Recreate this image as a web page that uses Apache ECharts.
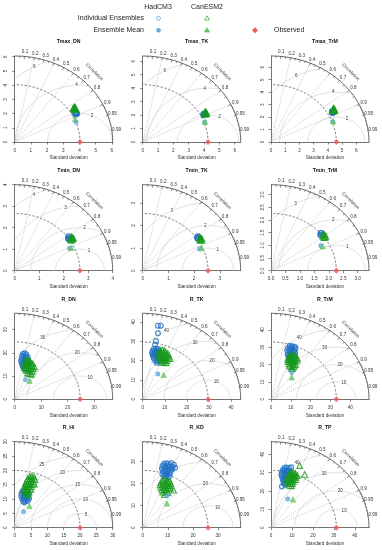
<!DOCTYPE html>
<html><head><meta charset="utf-8">
<script src="https://cdn.jsdelivr.net/npm/echarts@6/dist/echarts.min.js"></script>
<style>html,body{margin:0;padding:0;background:#fff}#c{width:382px;height:550px}</style>
</head><body><div id="c"></div>
<script>
// ---------------- data ----------------
const panelNames = ["Tmax_DN","Tmax_TK","Tmax_TrM","Tmin_DN","Tmin_TK","Tmin_TrM","R_DN","R_TK","R_TrM","R_Hi","R_KD","R_TP"];
const observedSD = [4.03,4.26,4.6,2.66,2.54,2.26,24.7,29.6,33,20,26,31.2];
const maxSD = [6.05,6.39,6.9,4.0,3.81,3.39,37,44.4,49.5,30,39,46.8];
const tickStep = [1,1,1,1,1,0.5,10,10,10,5,10,10];
const rmsLabels = [[2,4,6],[2,4,6],[2,4,6],[1,2,3,4],[1,2,3],[1,2,3],[10,20,30],[10,20,30,40],[10,20,30,40],[5,10,15,20,25],[10,20,30],[10,20,30,40]];
const corrLabels = [0.1,0.2,0.3,0.4,0.5,0.6,0.7,0.8,0.9,0.95,0.99];
const corrGridLines = [0.2,0.4,0.6,0.8,0.9];

const hadMean = [[3.79,1.40],[4.04,1.46],[4.34,1.63],[2.24,1.04],[2.21,0.97],[1.72,0.99],[4.07,8.46],[6.9,13.1],[10.5,15.4],[2.7,5.6],[9.65,14.5],[8.0,15.6]];
const canMean = [[3.73,1.63],[4.07,1.51],[4.38,1.66],[2.31,1.07],[2.29,1.0],[1.79,0.96],[5.6,8.0],[9.5,12.6],[10.5,12.7],[4.5,7.6],[9.65,11.0],[10.5,15.4]];

const hadTmaxDN = [[3.72,2.0],[3.79,2.06],[3.86,2.0],[3.76,1.94],[3.83,1.95],[3.8,2.1],[3.74,2.07]];
const canTmaxDN = [[3.62,2.33],[3.69,2.4],[3.76,2.34],[3.66,2.27],[3.73,2.28],[3.68,2.46],[3.63,2.41],[3.75,2.42]];
const hadTmaxTK = [[3.94,2.06],[4.0,2.12],[4.06,2.06],[3.97,2.0],[4.03,2.02]];
const canTmaxTK = [[4.04,2.13],[4.11,2.2],[4.18,2.14],[4.08,2.08],[4.15,2.09],[4.1,2.26],[4.05,2.2]];
const hadTmaxTrM = [[4.28,2.38],[4.34,2.45],[4.4,2.39],[4.31,2.32],[4.37,2.34],[4.3,2.48]];
const canTmaxTrM = [[4.36,2.56],[4.43,2.64],[4.5,2.57],[4.4,2.5],[4.47,2.5],[4.42,2.72],[4.37,2.67]];
const hadTminDN = [[2.17,1.5],[2.22,1.56],[2.27,1.51],[2.2,1.46],[2.25,1.47],[2.19,1.6]];
const canTminDN = [[2.27,1.47],[2.32,1.54],[2.37,1.49],[2.3,1.42],[2.35,1.43],[2.33,1.58],[2.4,1.52]];
const hadTminTK = [[2.11,1.45],[2.16,1.51],[2.2,1.46],[2.14,1.41],[2.13,1.53]];
const canTminTK = [[2.21,1.39],[2.26,1.45],[2.31,1.4],[2.24,1.34],[2.29,1.35],[2.22,1.48]];
const hadTminTrM = [[1.7,1.42],[1.75,1.48],[1.8,1.43],[1.73,1.38],[1.72,1.5]];
const canTminTrM = [[1.8,1.35],[1.85,1.41],[1.9,1.36],[1.83,1.3],[1.88,1.31],[1.81,1.44]];
const hadRDN = [[3.2,19.5],[3.8,19.8],[4.4,19.3],[2.8,18.6],[3.5,18.5],[4.2,18.4],[4.9,18.2],[2.6,17.5],[3.3,17.4],[4.0,17.3],[4.7,17.1],[2.4,16.4],[3.1,16.3],[3.8,16.2],[4.5,16.0],[5.2,16.4],[2.7,15.3],[3.4,15.2],[4.1,15.0],[4.8,15.3],[3.0,14.2],[3.7,14.0],[4.4,14.3],[3.5,13.0],[4.2,12.8]];
const canRDN = [[4.2,16.8],[5.0,16.9],[5.8,16.5],[3.7,15.9],[4.5,15.8],[5.3,15.7],[6.1,15.6],[6.8,15.3],[3.5,14.8],[4.3,14.7],[5.1,14.6],[5.9,14.5],[6.7,14.3],[7.5,14.0],[3.8,13.6],[4.6,13.5],[5.4,13.4],[6.2,13.3],[7.0,13.1],[4.2,12.5],[5.0,12.4],[5.8,12.2],[6.6,12.0],[4.8,11.3],[5.6,11.0],[6.3,10.7]];
const hadRTK = [[5.0,26.0],[6.0,26.3],[7.0,25.8],[4.5,25.0],[5.5,25.0],[6.5,24.9],[7.5,24.6],[4.2,23.8],[5.2,23.9],[6.2,23.7],[7.2,23.5],[8.2,23.2],[4.6,22.6],[5.6,22.5],[6.6,22.4],[7.6,22.2],[8.6,22.0],[5.0,21.3],[6.0,21.2],[7.0,21.0],[8.0,20.8],[5.6,20.0],[6.6,19.8],[7.6,19.6],[6.4,18.8],[6.9,38.0],[8.2,38.0],[6.9,34.1],[6.0,30.1],[5.6,28.2],[4.9,22.9]];
const canRTK = [[8.0,25.3],[9.0,25.5],[10.0,25.1],[7.4,24.3],[8.4,24.3],[9.4,24.2],[10.4,24.0],[11.4,23.6],[7.0,23.0],[8.0,23.1],[9.0,23.0],[10.0,22.8],[11.0,22.6],[12.0,22.3],[7.4,21.8],[8.4,21.8],[9.4,21.7],[10.4,21.5],[11.4,21.2],[12.4,21.0],[8.0,20.5],[9.0,20.4],[10.0,20.2],[11.0,20.0],[8.6,19.2],[9.6,19.0],[10.6,18.8]];
const hadRTrM = [[9.5,30.8],[10.8,30.5],[12.0,30.2],[8.6,29.6],[9.8,29.5],[11.0,29.4],[12.4,29.2],[8.2,28.3],[9.4,28.2],[10.6,28.1],[11.8,28.0],[8.6,27.0],[9.8,26.9],[11.0,26.8],[12.2,26.6],[8.4,25.6],[9.6,25.6],[10.8,25.5],[12.0,25.3],[9.0,24.3],[10.2,24.2],[11.4,24.0],[9.6,23.0],[10.8,22.8],[10.2,21.8]];
const canRTrM = [[9.6,25.3],[10.8,25.4],[12.2,25.0],[8.8,24.2],[10.0,24.2],[11.2,24.1],[12.4,23.9],[13.4,23.6],[8.4,23.0],[9.6,23.0],[10.8,22.9],[12.0,22.7],[13.2,22.4],[8.6,21.7],[9.8,21.7],[11.0,21.6],[12.2,21.4],[9.0,20.4],[10.2,20.4],[11.4,20.2],[12.4,20.0],[9.4,19.2],[10.6,19.0],[11.6,18.8],[10.2,17.8],[11.0,17.6]];
const hadRHi = [[2.4,12.7],[3.1,12.8],[3.8,12.5],[2.1,11.9],[2.8,11.9],[3.5,11.8],[4.2,11.6],[2.0,11.0],[2.7,11.0],[3.4,10.9],[4.1,10.8],[2.3,10.1],[3.0,10.1],[3.7,10.0],[4.4,10.2],[2.6,9.3],[3.3,9.2],[4.0,9.4],[2.9,8.8]];
const canRHi = [[4.6,17.9],[5.3,18.0],[6.0,17.6],[4.0,17.1],[4.7,17.1],[5.4,17.0],[6.2,16.8],[3.6,16.2],[4.3,16.2],[5.0,16.1],[5.7,16.0],[3.2,15.3],[3.9,15.3],[4.6,15.2],[5.3,15.1],[6.0,15.2],[3.0,14.4],[3.7,14.4],[4.4,14.3],[5.1,14.2],[2.8,13.5],[3.5,13.5],[4.2,13.4],[4.9,13.3],[3.0,12.6],[3.7,12.5],[4.4,12.4],[3.4,11.7],[4.1,11.5]];
const hadRKD = [[8.4,29.0],[9.4,29.2],[10.4,28.9],[11.4,29.4],[12.4,28.6],[7.9,28.0],[8.9,28.0],[9.9,27.9],[10.9,27.8],[11.9,27.6],[12.9,27.2],[7.6,26.8],[8.6,26.8],[9.6,26.7],[10.6,26.6],[11.6,26.4],[8.0,25.6],[9.0,25.6],[10.0,25.5],[11.0,25.3],[7.8,24.4],[8.8,24.4],[9.8,24.3],[10.8,24.1],[8.4,23.2],[9.4,23.1],[10.4,23.0],[9.0,22.2]];
const canRKD = [[7.8,21.5],[8.8,21.6],[9.8,21.3],[10.8,21.0],[7.2,20.5],[8.2,20.5],[9.2,20.4],[10.2,20.3],[11.2,20.0],[6.9,19.4],[7.9,19.4],[8.9,19.3],[9.9,19.2],[10.9,19.0],[7.2,18.3],[8.2,18.3],[9.2,18.2],[10.2,18.1],[11.0,17.8],[7.6,17.2],[8.6,17.1],[9.6,17.0],[12.3,17.0],[8.0,16.1],[9.0,16.0],[10.0,15.9],[8.6,15.0]];
const hadRTP = [[6.4,32.6],[7.4,32.8],[8.6,32.4],[9.6,32.9],[5.6,31.4],[6.6,31.4],[7.6,31.3],[8.6,31.1],[5.2,30.2],[6.2,30.2],[7.2,30.1],[8.2,30.0],[9.2,29.8],[5.0,29.0],[6.0,29.0],[7.0,28.9],[8.0,28.8],[9.0,28.6],[5.2,27.8],[6.2,27.8],[7.2,27.7],[8.2,27.6],[5.6,26.6],[6.6,26.6],[7.6,26.5],[8.6,26.4],[5.8,25.4],[6.8,25.3],[7.8,25.2],[6.2,24.2],[7.2,24.1],[5.2,22.4],[6.6,23.2]];
const canRTP = [[9.6,30.0],[10.6,30.1],[11.6,29.6],[8.6,29.0],[9.6,29.0],[10.6,28.9],[11.6,28.7],[12.6,28.4],[8.0,27.8],[9.0,27.8],[10.0,27.7],[11.0,27.6],[12.0,27.4],[7.6,26.6],[8.6,26.6],[9.6,26.5],[10.6,26.4],[11.6,26.2],[7.6,25.4],[8.6,25.4],[9.6,25.3],[10.6,25.2],[8.2,24.2],[9.2,24.2],[10.2,24.0],[8.8,23.0],[9.8,22.8],[13.7,33.8],[16.1,29.0]];

const hadIndividual = [hadTmaxDN,hadTmaxTK,hadTmaxTrM,hadTminDN,hadTminTK,hadTminTrM,hadRDN,hadRTK,hadRTrM,hadRHi,hadRKD,hadRTP];
const canIndividual = [canTmaxDN,canTmaxTK,canTmaxTrM,canTminDN,canTminTK,canTminTrM,canRDN,canRTK,canRTrM,canRHi,canRKD,canRTP];

// ---------------- styling / layout ----------------
const FONT = '"Liberation Sans", Arial, Helvetica, sans-serif';
const AX = '#3a3a3a';
const BLUE_IND = '#1f6fc6', GREEN_IND = '#179a1c';
const BLUE_MEAN = '#66ade2', GREEN_MEAN = '#69c969';
const OBS = '#f05a5a';
const colX = [14.7, 142.7, 271];
const rowBottom = [142, 270.7, 399.3, 527.7];
const PW = 98, PH = 86;
const FS = 4.6;

function ticksOf(i){ const t=[]; for(let k=0; k*tickStep[i] <= maxSD[i]+1e-9; k++) t.push(+(k*tickStep[i]).toFixed(6)); return t; }
function fmt(i,v){ v = +(+v).toFixed(6); return tickStep[i] < 1 ? v.toFixed(1) : String(v); }

function makeFrame(i){
  const M = maxSD[i], R = observedSD[i], gam = rmsLabels[i];
  return function(params, api){
    const P = (x,y) => api.coord([x,y]);
    const ch = [];
    const line = (pts, stroke, w, dash) => ch.push({type:'polyline', silent:true, shape:{points:pts}, style:{stroke:stroke, lineWidth:w, fill:null, lineDash:dash||null}});
    const text = (x,y,s,opt) => ch.push(Object.assign({type:'text', silent:true, x:x, y:y, style:Object.assign({text:s, x:0, y:0, fill:'#333', font: FS+'px '+FONT, align:'center', verticalAlign:'middle'}, opt&&opt.style||{})}, opt&&opt.el||{}));
    corrGridLines.forEach(c => { const s = Math.sqrt(1-c*c); line([P(0,0), P(M*c, M*s)], '#9c9c9c', 0.6, [1,1.4]); });
    gam.forEach(g => {
      let seg = [];
      for (let j=0;j<=240;j++){
        const a = Math.PI*j/240, x = R + g*Math.cos(a), y = g*Math.sin(a);
        if (x >= 0 && x*x+y*y <= M*M) seg.push(P(x,y));
        else { if (seg.length>1) line(seg,'#c8c8c8',0.6); seg=[]; }
      }
      if (seg.length>1) line(seg,'#c8c8c8',0.6);
    });
    const arc = (r) => { const pts=[]; for(let j=0;j<=90;j++){const a=Math.PI/2*j/90; pts.push(P(r*Math.cos(a), r*Math.sin(a)));} return pts; };
    line(arc(R), '#4a4a4a', 0.7, [2.4,1.6]);
    line(arc(M), AX, 0.8);
    const tk = (c, f) => { const s=Math.sqrt(1-c*c); line([P(M*c,M*s), P(f*M*c,f*M*s)], AX, 0.6); };
    for (let k=1;k<=9;k++) tk(k/10, 0.97);
    for (let k=0;k<10;k++) tk(0.05+k/10, 0.98);
    for (let k=1;k<=9;k++) tk(0.9+k/100, 0.99);
    corrLabels.forEach(c => { const s=Math.sqrt(1-c*c); const p=P(1.05*M*c, 1.05*M*s); text(p[0], p[1], String(c)); });
    const pc = P(1.15*M*Math.SQRT1_2, 1.15*M*Math.SQRT1_2);
    text(pc[0], pc[1], 'Correlation', {el:{rotation:-Math.PI/4}});
    gam.forEach((g,k) => {
      const a = (68 + 50*k/(gam.length-1))*Math.PI/180;
      const x = R + g*Math.cos(a), y = g*Math.sin(a);
      if (x > 0) { const p=P(x,y); text(p[0], p[1], String(g), {style:{backgroundColor:'#fff', padding:[0,0.6]}}); }
    });
    const pb = P(0.55*M, 0), pt = P(0.55*M, M);
    text(pb[0], pb[1]+16, 'Standard deviation');
    text(pt[0], pt[1]-14, panelNames[i], {style:{font:'bold 5.2px '+FONT, fill:'#111'}});
    return {type:'group', children: ch};
  };
}

const grids=[], xAxes=[], yAxes=[], series=[];
panelNames.forEach((name,i) => {
  const r = Math.floor(i/3), c = i%3;
  grids.push({left:colX[c], top:rowBottom[r]-PH, width:PW, height:PH});
  const t = ticksOf(i);
  const common = {gridIndex:i, type:'value', min:0, max:maxSD[i], interval:tickStep[i],
    axisLine:{show:true, onZero:false, lineStyle:{color:AX, width:0.7}},
    axisTick:{show:true, length:2.5, customValues:t, lineStyle:{color:AX, width:0.6}},
    splitLine:{show:false}};
  xAxes.push(Object.assign({}, common, {axisLabel:{customValues:t, fontSize:FS, margin:6, color:'#333', fontFamily:FONT, formatter:v=>fmt(i,v)}}));
  yAxes.push(Object.assign({}, common, {axisLabel:{customValues:t, fontSize:FS, margin:6, rotate:90, color:'#333', fontFamily:FONT, formatter:v=>fmt(i,v)}}));
  series.push({type:'custom', xAxisIndex:i, yAxisIndex:i, data:[[0,0]], renderItem:makeFrame(i), silent:true, z:1, clip:false});
  const sc = (data, symbol, size, style, z) => ({type:'scatter', xAxisIndex:i, yAxisIndex:i, data:data, symbol:symbol, symbolSize:size, itemStyle:style, silent:true, z:z});
  series.push(sc(hadIndividual[i], 'circle', 4.8, {color:'rgba(0,0,0,0)', borderColor:BLUE_IND, borderWidth:1.15}, 3));
  series.push(sc(canIndividual[i], 'triangle', 5.6, {color:'rgba(0,0,0,0)', borderColor:GREEN_IND, borderWidth:1.15}, 4));
  series.push(sc([hadMean[i]], 'circle', 4.4, {color:BLUE_MEAN, borderColor:'#3d94d6', borderWidth:0.5}, 5));
  series.push(sc([canMean[i]], 'triangle', 5.4, {color:GREEN_MEAN, borderColor:'#3fb53f', borderWidth:0.5}, 5));
  series.push(sc([[observedSD[i], 0]], 'diamond', 6, {color:OBS}, 6));
});

const LF = '7px '+FONT;
const T = (x,y,s,align) => ({type:'text', x:x, y:y, style:{text:s, font:LF, fill:'#222', align:align||'center', verticalAlign:'middle'}});
const graphic = [
  T(158,7,'HadCM3'), T(207,7,'CanESM2'),
  T(144,18.3,'Individual Ensembles','right'), T(144,30.3,'Ensemble Mean','right'),
  T(274,30.3,'Observed','left'),
  {type:'circle', shape:{cx:158.5, cy:18.3, r:1.9}, style:{fill:null, stroke:'#4f9fe0', lineWidth:0.8}},
  {type:'polygon', shape:{points:[[207,15.8],[209.4,20],[204.6,20]]}, style:{fill:null, stroke:'#3db53d', lineWidth:0.8}},
  {type:'circle', shape:{cx:158.5, cy:30.3, r:2}, style:{fill:BLUE_MEAN, stroke:'#3d94d6', lineWidth:0.5}},
  {type:'polygon', shape:{points:[[207,27.7],[209.6,32.1],[204.4,32.1]]}, style:{fill:GREEN_MEAN, stroke:'#3fb53f', lineWidth:0.5}},
  {type:'polygon', shape:{points:[[255,27.3],[258,30.3],[255,33.3],[252,30.3]]}, style:{fill:OBS}}
];

const chart = echarts.init(document.getElementById('c'), null, {renderer:'canvas'});
chart.setOption({animation:false, backgroundColor:'#fff', grid:grids, xAxis:xAxes, yAxis:yAxes, series:series, graphic:graphic});
</script></body></html>
